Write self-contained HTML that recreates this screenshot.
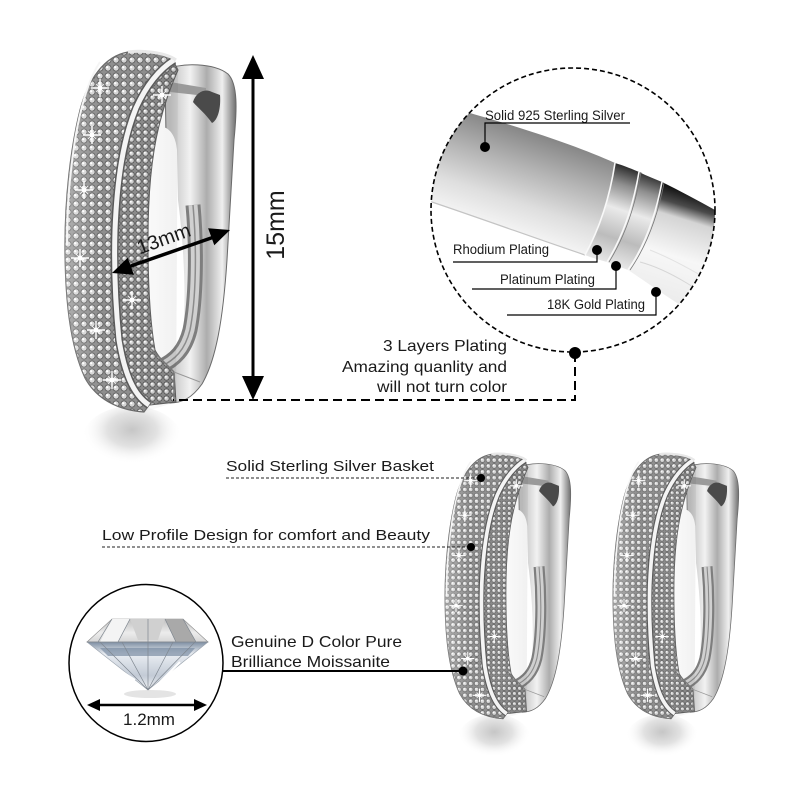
<!DOCTYPE html>
<html>
<head>
<meta charset="utf-8">
<style>
  html, body { margin: 0; padding: 0; background: #fff; }
  svg { display: block; }
  text { font-family: "Liberation Sans", Arial, sans-serif; fill: #1a1a1a; }
</style>
</head>
<body>
<svg width="800" height="800" viewBox="0 0 800 800" xmlns="http://www.w3.org/2000/svg">
  <defs>
    <pattern id="pave" width="8" height="8" patternUnits="userSpaceOnUse">
      <rect width="8" height="8" fill="#8e8e8e"/>
      <circle cx="4" cy="4" r="3.1" fill="#d6d6d6" stroke="#555" stroke-width="0.8"/>
      <circle cx="3.2" cy="3.2" r="1.1" fill="#ffffff"/>
    </pattern>
    <pattern id="pave2" width="7" height="7" patternUnits="userSpaceOnUse" patternTransform="translate(2,3)">
      <rect width="7" height="7" fill="#8a8a8a"/>
      <circle cx="3.5" cy="3.5" r="2.7" fill="#d2d2d2" stroke="#525252" stroke-width="0.8"/>
      <circle cx="2.8" cy="2.8" r="1" fill="#ffffff"/>
    </pattern>
    <linearGradient id="metal" x1="170" y1="0" x2="237" y2="0" gradientUnits="userSpaceOnUse">
      <stop offset="0" stop-color="#c0c0c0"/>
      <stop offset="0.3" stop-color="#f2f2f2"/>
      <stop offset="0.55" stop-color="#adadad"/>
      <stop offset="0.78" stop-color="#efefef"/>
      <stop offset="1" stop-color="#666666"/>
    </linearGradient>
    <linearGradient id="bandShade" x1="65" y1="0" x2="180" y2="0" gradientUnits="userSpaceOnUse">
      <stop offset="0" stop-color="#ffffff" stop-opacity="0.3"/>
      <stop offset="0.3" stop-color="#ffffff" stop-opacity="0"/>
      <stop offset="1" stop-color="#000000" stop-opacity="0.06"/>
    </linearGradient>
    <radialGradient id="shadow" cx="0.5" cy="0.35" r="0.5">
      <stop offset="0" stop-color="#c6c6c6"/>
      <stop offset="0.5" stop-color="#e2e2e2"/>
      <stop offset="1" stop-color="#ffffff" stop-opacity="0"/>
    </radialGradient>
    <linearGradient id="tubeL" x1="500" y1="122" x2="468" y2="218" gradientUnits="userSpaceOnUse">
      <stop offset="0" stop-color="#878787"/>
      <stop offset="0.35" stop-color="#b4b4b4"/>
      <stop offset="0.7" stop-color="#dedede"/>
      <stop offset="1" stop-color="#f5f5f5"/>
    </linearGradient>
    <linearGradient id="tubeR" x1="700" y1="196" x2="668" y2="300" gradientUnits="userSpaceOnUse">
      <stop offset="0" stop-color="#141414"/>
      <stop offset="0.13" stop-color="#4a4a4a"/>
      <stop offset="0.25" stop-color="#d4d4d4"/>
      <stop offset="0.6" stop-color="#f7f7f7"/>
      <stop offset="1" stop-color="#ececec"/>
    </linearGradient>
    <linearGradient id="ring" x1="632" y1="168" x2="600" y2="266" gradientUnits="userSpaceOnUse">
      <stop offset="0" stop-color="#2a2a2a"/>
      <stop offset="0.18" stop-color="#8e8e8e"/>
      <stop offset="0.42" stop-color="#eaeaea"/>
      <stop offset="0.7" stop-color="#bcbcbc"/>
      <stop offset="1" stop-color="#f0f0f0"/>
    </linearGradient>
    <linearGradient id="crown" x1="0" y1="0" x2="0" y2="1">
      <stop offset="0" stop-color="#bfbfbf"/>
      <stop offset="0.6" stop-color="#ececec"/>
      <stop offset="1" stop-color="#d6d6d6"/>
    </linearGradient>
    <linearGradient id="pavil" x1="0" y1="0" x2="0" y2="1">
      <stop offset="0" stop-color="#7d8ea3"/>
      <stop offset="0.25" stop-color="#e9edf2"/>
      <stop offset="0.7" stop-color="#c3cbd6"/>
      <stop offset="1" stop-color="#f2f4f6"/>
    </linearGradient>
    <clipPath id="cc"><circle cx="573" cy="210" r="142"/></clipPath>

    <g id="spark">
      <path d="M-9,0 L9,0 M0,-9 L0,9" stroke="#ffffff" stroke-width="1.4"/>
      <path d="M-4,-4 L4,4 M-4,4 L4,-4" stroke="#ffffff" stroke-width="0.8"/>
      <circle r="2.4" fill="#ffffff"/>
    </g>

    <g id="ear">
      <!-- shadow -->
      <ellipse cx="132" cy="440" rx="50" ry="34" fill="url(#shadow)"/>
      <!-- back metal -->
      <path d="M165,70 C182,62 214,63 228,74 C238,84 237,110 234,140 L227,260 C223,320 216,360 202,384 C192,398 182,403 170,403 Z" fill="url(#metal)" stroke="#6a6a6a" stroke-width="1"/>
      <!-- hinge bar & hole -->
      <path d="M170,82 L206,88 L206,96 L170,92 Z" fill="#9a9a9a"/>
      <path d="M193,102 C196,92 205,88 212,92 L220,95 C221,108 218,120 212,123 C205,113 198,108 193,102 Z" fill="#4a4a4a"/>
      <!-- inner opening -->
      <path d="M150,130 C162,122 175,128 177,150 L178,200 C182,230 186,280 184,320 C182,345 172,360 158,366 C150,340 147,290 147,240 C147,190 147,150 150,130 Z" fill="#ffffff"/>
      <!-- latch rod -->
      <path d="M193,205 C197,250 196,300 190,330 C185,350 175,360 160,367" fill="none" stroke="#7e7e7e" stroke-width="15"/>
      <path d="M193,205 C197,250 196,300 190,330 C185,350 175,360 160,367" fill="none" stroke="#d0d0d0" stroke-width="9"/>
      <path d="M193,205 C197,250 196,300 190,330 C185,350 175,360 160,367" fill="none" stroke="#8c8c8c" stroke-width="1.5"/>
      <!-- outer pave band -->
      <path d="M128,52 C104,56 88,80 80,110 C70,150 65,200 65,245 C65,300 70,345 85,378 C96,398 116,410 144,412 L150,404 C132,394 124,370 119,340 C115,300 114,260 115,230 C117,180 123,140 136,108 C146,85 158,70 174,60 C165,52 140,50 128,52 Z" fill="url(#pave)" stroke="#6a6a6a" stroke-width="1.2"/>
      <!-- inner pave band -->
      <path d="M174,62 C160,72 146,88 137,110 C124,142 118,182 116,230 C115,262 116,300 120,340 C125,370 133,394 150,405 L176,402 L174,372 C166,364 159,358 155,350 C150,322 148,282 148,240 C148,192 152,152 160,122 C165,102 171,86 178,70 Z" fill="url(#pave2)" stroke="#5e5e5e" stroke-width="1"/>
      <path d="M128,52 C104,56 88,80 80,110 C70,150 65,200 65,245 C65,300 70,345 85,378 C96,398 116,410 144,412 L176,402 L178,70 C165,52 140,50 128,52 Z" fill="url(#bandShade)"/>
      <!-- rim -->
      <path d="M174,60 C158,70 146,86 136,108 C123,140 117,180 115,230 C114,262 115,300 119,340 C124,370 132,394 149,405" fill="none" stroke="#5a5a5a" stroke-width="8"/>
      <path d="M174,60 C158,70 146,86 136,108 C123,140 117,180 115,230 C114,262 115,300 119,340 C124,370 132,394 149,405" fill="none" stroke="#f4f4f4" stroke-width="5"/>
      <!-- top cap rim -->
      <path d="M128,52 C140,50 165,52 176,60" fill="none" stroke="#e8e8e8" stroke-width="3"/>
      <!-- outer edge highlight -->
      <path d="M100,62 C88,80 80,110 75,140 C69,180 67,210 67,245" fill="none" stroke="#f5f5f5" stroke-width="2"/>
      <!-- bottom facet -->
      <path d="M150,348 L174,372 L174,402" fill="none" stroke="#777" stroke-width="1.5"/>
      <path d="M174,372 L200,382" fill="none" stroke="#999" stroke-width="1"/>
      <!-- sparkles -->
      <use href="#spark" x="100" y="88"/>
      <use href="#spark" x="92" y="135"/>
      <use href="#spark" x="84" y="190"/>
      <use href="#spark" x="80" y="258"/>
      <use href="#spark" x="96" y="330"/>
      <use href="#spark" x="132" y="300"/>
      <use href="#spark" x="162" y="95"/>
      <use href="#spark" x="112" y="380"/>
    </g>
  </defs>

  <!-- ====== BIG EARRING ====== -->
  <use href="#ear"/>

  <!-- 15mm vertical arrow -->
  <line x1="253" y1="74" x2="253" y2="381" stroke="#000" stroke-width="3"/>
  <polygon points="253,55 242,79 264,79" fill="#000"/>
  <polygon points="253,400 242,376 264,376" fill="#000"/>
  <text transform="translate(284,225) rotate(-90)" text-anchor="middle" font-size="25">15mm</text>

  <!-- 13mm diagonal arrow -->
  <line x1="128" y1="267" x2="214" y2="237" stroke="#000" stroke-width="3.5"/>
  <polygon points="112,273 133.9,274.7 127.7,257.7" fill="#000"/>
  <polygon points="230,230 214.3,245.3 208.1,228.3" fill="#000"/>
  <text transform="translate(166,245) rotate(-20)" text-anchor="middle" font-size="20">13mm</text>

  <!-- dashed connector to circle -->
  <path d="M575,353 L575,400 L173,400" fill="none" stroke="#000" stroke-width="2" stroke-dasharray="9 5"/>
  <circle cx="575" cy="353" r="6" fill="#000"/>

  <text x="507" y="351" text-anchor="end" font-size="16" textLength="124" lengthAdjust="spacingAndGlyphs">3 Layers Plating</text>
  <text x="507" y="372" text-anchor="end" font-size="16" textLength="165" lengthAdjust="spacingAndGlyphs">Amazing quanlity and</text>
  <text x="507" y="392" text-anchor="end" font-size="16" textLength="130" lengthAdjust="spacingAndGlyphs">will not turn color</text>

  <!-- ====== TOP-RIGHT CIRCLE ====== -->
  <g clip-path="url(#cc)">
    <path d="M420,100 C470,112 560,138 615,163 Q607,215 585,255 C540,240 480,218 420,198 Z" fill="url(#tubeL)"/>
    <path d="M420,198 C480,218 540,240 585,255" fill="none" stroke="#c4c4c4" stroke-width="1.2"/>
    <path d="M662,182 C690,196 720,212 745,228 L745,342 C722,330 695,314 677,303 C660,292 645,281 628,270 Q652,235 662,182 Z" fill="url(#tubeR)"/>
    <path d="M640,262 C670,270 700,290 740,320" fill="none" stroke="#d6d6d6" stroke-width="1"/>
    <path d="M650,250 C680,262 710,280 740,300" fill="none" stroke="#e2e2e2" stroke-width="1"/>
    <path d="M615,163 C625,166 632,169 639,172 Q630,225 607,262 C600,260 592,258 585,255 Q607,215 615,163 Z" fill="url(#ring)"/>
    <path d="M639,172 C647,176 655,179 662,182 Q652,235 628,270 C620,267 614,265 607,262 Q630,225 639,172 Z" fill="url(#ring)"/>
    <path d="M615,163 Q607,215 585,255" fill="none" stroke="#f8f8f8" stroke-width="1.6"/>
    <path d="M639,172 Q630,225 607,262" fill="none" stroke="#f8f8f8" stroke-width="1.6"/>
    <path d="M662,182 Q652,235 628,270" fill="none" stroke="#f8f8f8" stroke-width="1.6"/>
    <path d="M641,172 Q632,225 609,262" fill="none" stroke="#777" stroke-width="0.8"/>
    <path d="M664,183 Q654,235 630,270" fill="none" stroke="#777" stroke-width="0.8"/>
  </g>
  <circle cx="573" cy="210" r="142" fill="none" stroke="#000" stroke-width="1.6" stroke-dasharray="5 3"/>

  <!-- circle labels -->
  <text x="485" y="120" font-size="13.5" textLength="140" lengthAdjust="spacingAndGlyphs">Solid 925 Sterling Silver</text>
  <path d="M485,147 L485,123 L630,123" fill="none" stroke="#000" stroke-width="1.2"/>
  <circle cx="485" cy="147" r="5" fill="#000"/>

  <text x="453" y="254" font-size="13.5" textLength="96" lengthAdjust="spacingAndGlyphs">Rhodium Plating</text>
  <path d="M453,262 L597,262 L597,250" fill="none" stroke="#000" stroke-width="1.2"/>
  <circle cx="597" cy="250" r="5" fill="#000"/>

  <text x="500" y="284" font-size="13.5" textLength="95" lengthAdjust="spacingAndGlyphs">Platinum Plating</text>
  <path d="M472,289 L616,289 L616,266" fill="none" stroke="#000" stroke-width="1.2"/>
  <circle cx="616" cy="266" r="5" fill="#000"/>

  <text x="547" y="309" font-size="13.5" textLength="98" lengthAdjust="spacingAndGlyphs">18K Gold Plating</text>
  <path d="M507,315 L656,315 L656,292" fill="none" stroke="#000" stroke-width="1.2"/>
  <circle cx="656" cy="292" r="5" fill="#000"/>

  <!-- ====== SMALL EARRINGS ====== -->
  <use href="#ear" transform="translate(397.2,416) scale(0.735)"/>
  <use href="#ear" transform="translate(565.2,416) scale(0.735)"/>

  <!-- bottom labels -->
  <text x="226" y="471" font-size="15" textLength="208" lengthAdjust="spacingAndGlyphs">Solid Sterling Silver Basket</text>
  <line x1="226" y1="478" x2="481" y2="478" stroke="#222" stroke-width="1" stroke-dasharray="3 2"/>
  <circle cx="481" cy="478" r="4" fill="#000"/>

  <text x="102" y="540" font-size="15" textLength="328" lengthAdjust="spacingAndGlyphs">Low Profile Design for comfort and Beauty</text>
  <line x1="102" y1="547" x2="471" y2="547" stroke="#222" stroke-width="1" stroke-dasharray="3 2"/>
  <circle cx="471" cy="547" r="4" fill="#000"/>

  <text x="231" y="647" font-size="16" textLength="171" lengthAdjust="spacingAndGlyphs">Genuine D Color Pure</text>
  <text x="231" y="667" font-size="16" textLength="159" lengthAdjust="spacingAndGlyphs">Brilliance Moissanite</text>
  <line x1="223" y1="671" x2="463" y2="671" stroke="#000" stroke-width="2"/>
  <circle cx="463" cy="671" r="4.5" fill="#000"/>

  <!-- ====== STONE CIRCLE ====== -->
  <ellipse cx="146" cy="663" rx="77" ry="78.5" fill="#fff" stroke="#000" stroke-width="1.5"/>
  <ellipse cx="150" cy="694" rx="26" ry="4" fill="#e4e4e4"/>
  <!-- diamond -->
  <polygon points="87,642 208,642 148,690" fill="url(#pavil)" stroke="#9aa3ad" stroke-width="0.6"/>
  <polygon points="112,619 183,619 208,642 87,642" fill="url(#crown)" stroke="#8a8a8a" stroke-width="0.6"/>
  <polygon points="130,619 165,619 158,640 138,640" fill="#d0d0d0"/>
  <polygon points="112,619 130,619 118,642 100,642" fill="#f4f4f4"/>
  <polygon points="165,619 183,619 196,642 176,642" fill="#a9a9a9"/>
  <polygon points="100,648 195,648 188,656 108,656" fill="#7b8da3" opacity="0.7"/>
  <g stroke="#7f8790" stroke-width="0.7" fill="none">
    <path d="M148,690 L100,642 M148,690 L122,642 M148,690 L148,642 M148,690 L173,642 M148,690 L195,642"/>
    <path d="M112,619 L98,642 M130,619 L118,642 M148,619 L148,642 M165,619 L176,642 M183,619 L196,642"/>
    <path d="M87,642 L208,642"/>
  </g>
  <path d="M112,665 L135,680 M180,662 L160,682" stroke="#ffffff" stroke-width="2"/>
  <!-- 1.2mm arrow -->
  <line x1="97" y1="705" x2="197" y2="705" stroke="#000" stroke-width="2.5"/>
  <polygon points="87,705 100,699 100,711" fill="#000"/>
  <polygon points="207,705 194,699 194,711" fill="#000"/>
  <text x="149" y="725" text-anchor="middle" font-size="17">1.2mm</text>
</svg>
</body>
</html>
